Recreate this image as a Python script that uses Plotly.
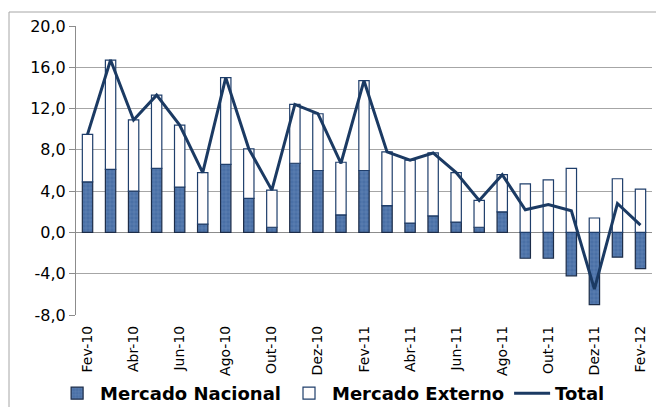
import plotly.graph_objects as go

meses = ["Fev-10", "Mar-10", "Abr-10", "Mai-10", "Jun-10", "Jul-10", "Ago-10", "Set-10",
         "Out-10", "Nov-10", "Dez-10", "Jan-11", "Fev-11", "Mar-11", "Abr-11", "Mai-11",
         "Jun-11", "Jul-11", "Ago-11", "Set-11", "Out-11", "Nov-11", "Dez-11", "Jan-12", "Fev-12"]
nacional = [4.9, 6.1, 4.0, 6.2, 4.4, 0.8, 6.6, 3.3, 0.5, 6.7, 6.0, 1.7, 6.0, 2.6, 0.9, 1.6,
            1.0, 0.5, 2.0, -2.5, -2.5, -4.2, -7.0, -2.4, -3.5]
externo = [4.6, 10.6, 6.9, 7.1, 6.0, 5.0, 8.4, 4.8, 3.6, 5.7, 5.5, 5.1, 8.7, 5.2, 6.1, 6.1,
           4.8, 2.6, 3.6, 4.7, 5.1, 6.2, 1.4, 5.2, 4.2]
total = [9.5, 16.7, 10.9, 13.3, 10.4, 5.8, 15.0, 8.1, 4.1, 12.4, 11.5, 6.7, 14.7, 7.8, 7.0, 7.7,
         5.8, 3.1, 5.6, 2.2, 2.7, 2.1, -5.5, 2.8, 0.7]
x_labels = meses[::2]
y_ticks = [-8, -4, 0, 4, 8, 12, 16, 20]
y_labels = ["-8,0", "-4,0", "0,0", "4,0", "8,0", "12,0", "16,0", "20,0"]

FONT = "DejaVu Sans, Verdana, sans-serif"
GRID = "#A6A6A6"
Y_MIN, Y_MAX = -8, 20

fig = go.Figure()
fig.add_trace(go.Bar(
    x=meses, y=nacional, name="Mercado Nacional",
    marker=dict(color="#4A70A6", line=dict(color="#1C2C48", width=1.2),
                pattern=dict(shape="+", fgcolor="#7D9BC6", size=4, solidity=0.25)),
))
fig.add_trace(go.Bar(
    x=meses, y=externo, name="Mercado Externo",
    marker=dict(color="#FFFDFD", line=dict(color="#1F3E6B", width=1.2)),
))
fig.add_trace(go.Scatter(
    x=meses, y=total, name="Total", mode="lines",
    line=dict(color="#1B3A63", width=3),
))

n = len(meses)
fig.update_layout(
    width=656, height=399,
    margin=dict(l=68, r=12, t=18, b=92, autoexpand=False),
    paper_bgcolor="white", plot_bgcolor="white",
    barmode="relative", bargap=0.55,
    font=dict(family=FONT, color="black"),
    showlegend=True,
    legend=dict(orientation="h", x=-0.038, xanchor="left",
                y=1 - (393.5 - 26) / 289, yanchor="middle",
                itemwidth=36, bgcolor="rgba(0,0,0,0)",
                font=dict(family=FONT, size=18, color="black", weight="bold"),
                traceorder="normal"),
    xaxis=dict(type="category", range=[-0.5, n - 0.5], tickmode="array",
               tickvals=x_labels, ticktext=x_labels, tickangle=-90,
               tickfont=dict(size=14, family=FONT), ticks="", showgrid=False,
               showline=False, zeroline=False, ticklabelstandoff=7, automargin=False),
    xaxis2=dict(type="linear", overlaying="x", anchor="free",
                position=(0 - Y_MIN) / (Y_MAX - Y_MIN),
                range=[-0.5, n - 0.5], tickmode="array",
                tickvals=[i - 0.5 for i in range(0, n + 1, 2)],
                ticks="outside", ticklen=5, tickcolor="#909090", showgrid=False,
                showline=False, zeroline=False, showticklabels=False, automargin=False),
    yaxis=dict(range=[Y_MIN, Y_MAX], tickmode="array", tickvals=y_ticks, ticktext=y_labels,
               tickfont=dict(size=16, family=FONT), showgrid=True, gridcolor=GRID,
               gridwidth=1, zeroline=True, zerolinecolor="#8C8C8C", zerolinewidth=1,
               showline=True, linecolor="#8C8C8C", linewidth=1, ticks="outside",
               ticklen=6, tickcolor="#8C8C8C", automargin=False),
    shapes=[dict(type="rect", xref="paper", yref="paper",
                 x0=(9 - 76) / 576, x1=1.2, y0=-0.6, y1=1 + 14 / 289,
                 line=dict(color="#A6A6A6", width=1), fillcolor="rgba(0,0,0,0)", layer="below")],
)

fig.write_html("out.html")
